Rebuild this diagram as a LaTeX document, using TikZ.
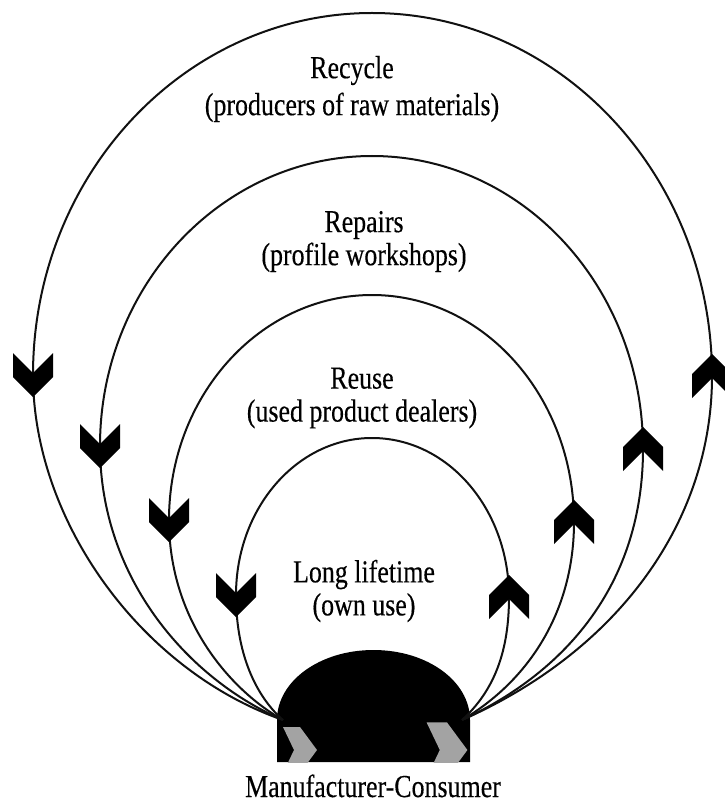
\documentclass[tikz,border=0pt]{standalone}
\usepackage{fontspec}
\setmainfont{Liberation Serif}[FakeStretch=0.81, FakeBold=0.3]
\usetikzlibrary{positioning, calc}
\definecolor{loopBlack}{HTML}{111111}
\definecolor{chevGray}{HTML}{A3A3A3}

\begin{document}
\begin{tikzpicture}[
    x=1pt, y=-1pt,
    loopline/.style={draw=loopBlack, line width=2pt},
    looptext/.style={font=\fontsize{32}{33}\selectfont, align=center, inner sep=0pt},
    pics/chevron/.style={code={
        \fill[black] (-20,-22) -- (0,-2) -- (20,-22) -- (20,2) -- (0,22) -- (-20,2) -- cycle;
    }},
    pics/passchevron/.style={code={
        \fill[chevGray] (-17,-23) -- (0,-23) -- (17,0) -- (0,23) -- (-17,23) -- (-6,0) -- cycle;
    }},
]
\useasboundingbox (0,0) rectangle (724,810);

% Manufacturer-Consumer (dome)
\fill[black] (277,762) -- (277,720) .. controls (277,681) and (320,650) .. (373.5,650)
    .. controls (427,650) and (470,681) .. (470,720) -- (470,762) -- cycle;
\begin{scope}
    \clip (277,640) rectangle (470,762);
    \pic at (300,750) {passchevron};
    \pic[scale=1.2] at (447,750) {passchevron};
\end{scope}
\node[looptext, anchor=base] (mc) at (373,797) {Manufacturer-Consumer};
\coordinate (mc in) at (283,720);
\coordinate (mc out) at (462,720);

% Long lifetime (own use)
\coordinate (l4) at (236,595);
\coordinate (t4) at (372,438);
\coordinate (r4) at (509,597);
\draw[loopline] (mc out) .. controls (495,690) and (509,650) .. (r4)
    .. controls (509,509) and (448,438) .. (t4)
    .. controls (297,438) and (236,508) .. (l4)
    .. controls (236,660) and (260,700) .. (mc in);
\pic at (l4) {chevron};
\pic[rotate=180] at (r4) {chevron};
\node[looptext] (lifetime) at (364,591) {Long lifetime\\(own use)};

% Reuse (used product dealers)
\coordinate (l3) at (169,520);
\coordinate (t3) at (372,295);
\coordinate (r3) at (574,522);
\draw[loopline] (mc out) .. controls (530,680) and (574,610) .. (r3)
    .. controls (574,397) and (484,295) .. (t3)
    .. controls (260,295) and (169,396) .. (l3)
    .. controls (169,620) and (230,690) .. (mc in);
\pic at (l3) {chevron};
\pic[rotate=180] at (r3) {chevron};
\node[looptext] (reuse) at (362,398) {Reuse\\(used product dealers)};

% Repairs (profile workshops)
\coordinate (l2) at (100,446);
\coordinate (t2) at (372,156);
\coordinate (r2) at (643,449);
\draw[loopline] (mc out) .. controls (570,670) and (643,580) .. (r2)
    .. controls (643,287) and (522,156) .. (t2)
    .. controls (222,156) and (100,286) .. (l2)
    .. controls (100,580) and (190,680) .. (mc in);
\pic at (l2) {chevron};
\pic[rotate=180] at (r2) {chevron};
\node[looptext] (repairs) at (364,241.5) {Repairs\\(profile workshops)};

% Recycle (producers of raw materials)
\coordinate (l1) at (33,375);
\coordinate (t1) at (372,13);
\coordinate (r1) at (712,376);
\draw[loopline] (mc out) .. controls (620,650) and (712,520) .. (r1)
    .. controls (712,176) and (560,13) .. (t1)
    .. controls (185,13) and (33,175) .. (l1)
    .. controls (33,520) and (140,670) .. (mc in);
\pic at (l1) {chevron};
\pic[rotate=180] at (r1) {chevron};
\node[looptext] (recycle) at (352,89) {Recycle\\[4pt](producers of raw materials)};

\end{tikzpicture}
\end{document}
